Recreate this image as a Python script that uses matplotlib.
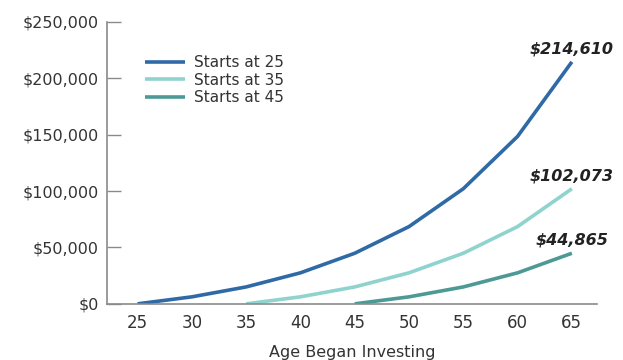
import matplotlib.pyplot as plt
from matplotlib.ticker import FuncFormatter

ages_25 = [25, 30, 35, 40, 45, 50, 55, 60, 65]
values_25 = [0, 6200, 15000, 27500, 44865, 68500, 102073, 148500, 214610]
ages_35 = [35, 40, 45, 50, 55, 60, 65]
values_35 = [0, 6200, 15000, 27500, 44865, 68500, 102073]
ages_45 = [45, 50, 55, 60, 65]
values_45 = [0, 6200, 15000, 27500, 44865]

series = [
    ("Starts at 25", ages_25, values_25, "#2f6aa7"),
    ("Starts at 35", ages_35, values_35, "#8fd3cf"),
    ("Starts at 45", ages_45, values_45, "#4c9995"),
]

plt.rcParams['font.family'] = ['DejaVu Sans']

fig = plt.figure(figsize=(6.23, 3.6), dpi=100)
ax = fig.add_axes([0.172, 0.156, 0.786, 0.783])

for name, ages, values, color in series:
    ax.plot(ages, values, color=color, lw=2.6, label=name, solid_capstyle="butt")
    ax.annotate(f"${values[-1]:,}", (ages[-1], values[-1]), xytext=(0, 4),
                textcoords="offset points", ha="center", va="bottom",
                fontsize=11.5, fontweight="bold", fontstyle="italic", color="#222222")

ax.set_xlim(22.2, 67.3)
ax.set_ylim(0, 250000)
ax.set_xticks(ages_25)
ax.set_yticks(range(0, 250001, 50000))
ax.yaxis.set_major_formatter(FuncFormatter(lambda v, p: f"${int(v):,}"))

for s in ["top", "right"]:
    ax.spines[s].set_visible(False)
for s in ["left", "bottom"]:
    ax.spines[s].set_color("#8a8a8a")
    ax.spines[s].set_linewidth(1.2)

ax.tick_params(axis="y", direction="in", length=10, width=1, color="#8a8a8a",
               labelsize=11.5, labelcolor="#333333", pad=6)
ax.tick_params(axis="x", length=0, labelsize=12, labelcolor="#333333", pad=7)

ax.set_xlabel("Age Began Investing", fontsize=11.5, color="#333333", labelpad=10)

ax.legend(loc="upper left", bbox_to_anchor=(0.05, 0.93), frameon=False,
          fontsize=11, handlelength=2.6, handletextpad=0.6, labelspacing=0.15,
          labelcolor="#333333")

fig.savefig("out.png", dpi=100)
